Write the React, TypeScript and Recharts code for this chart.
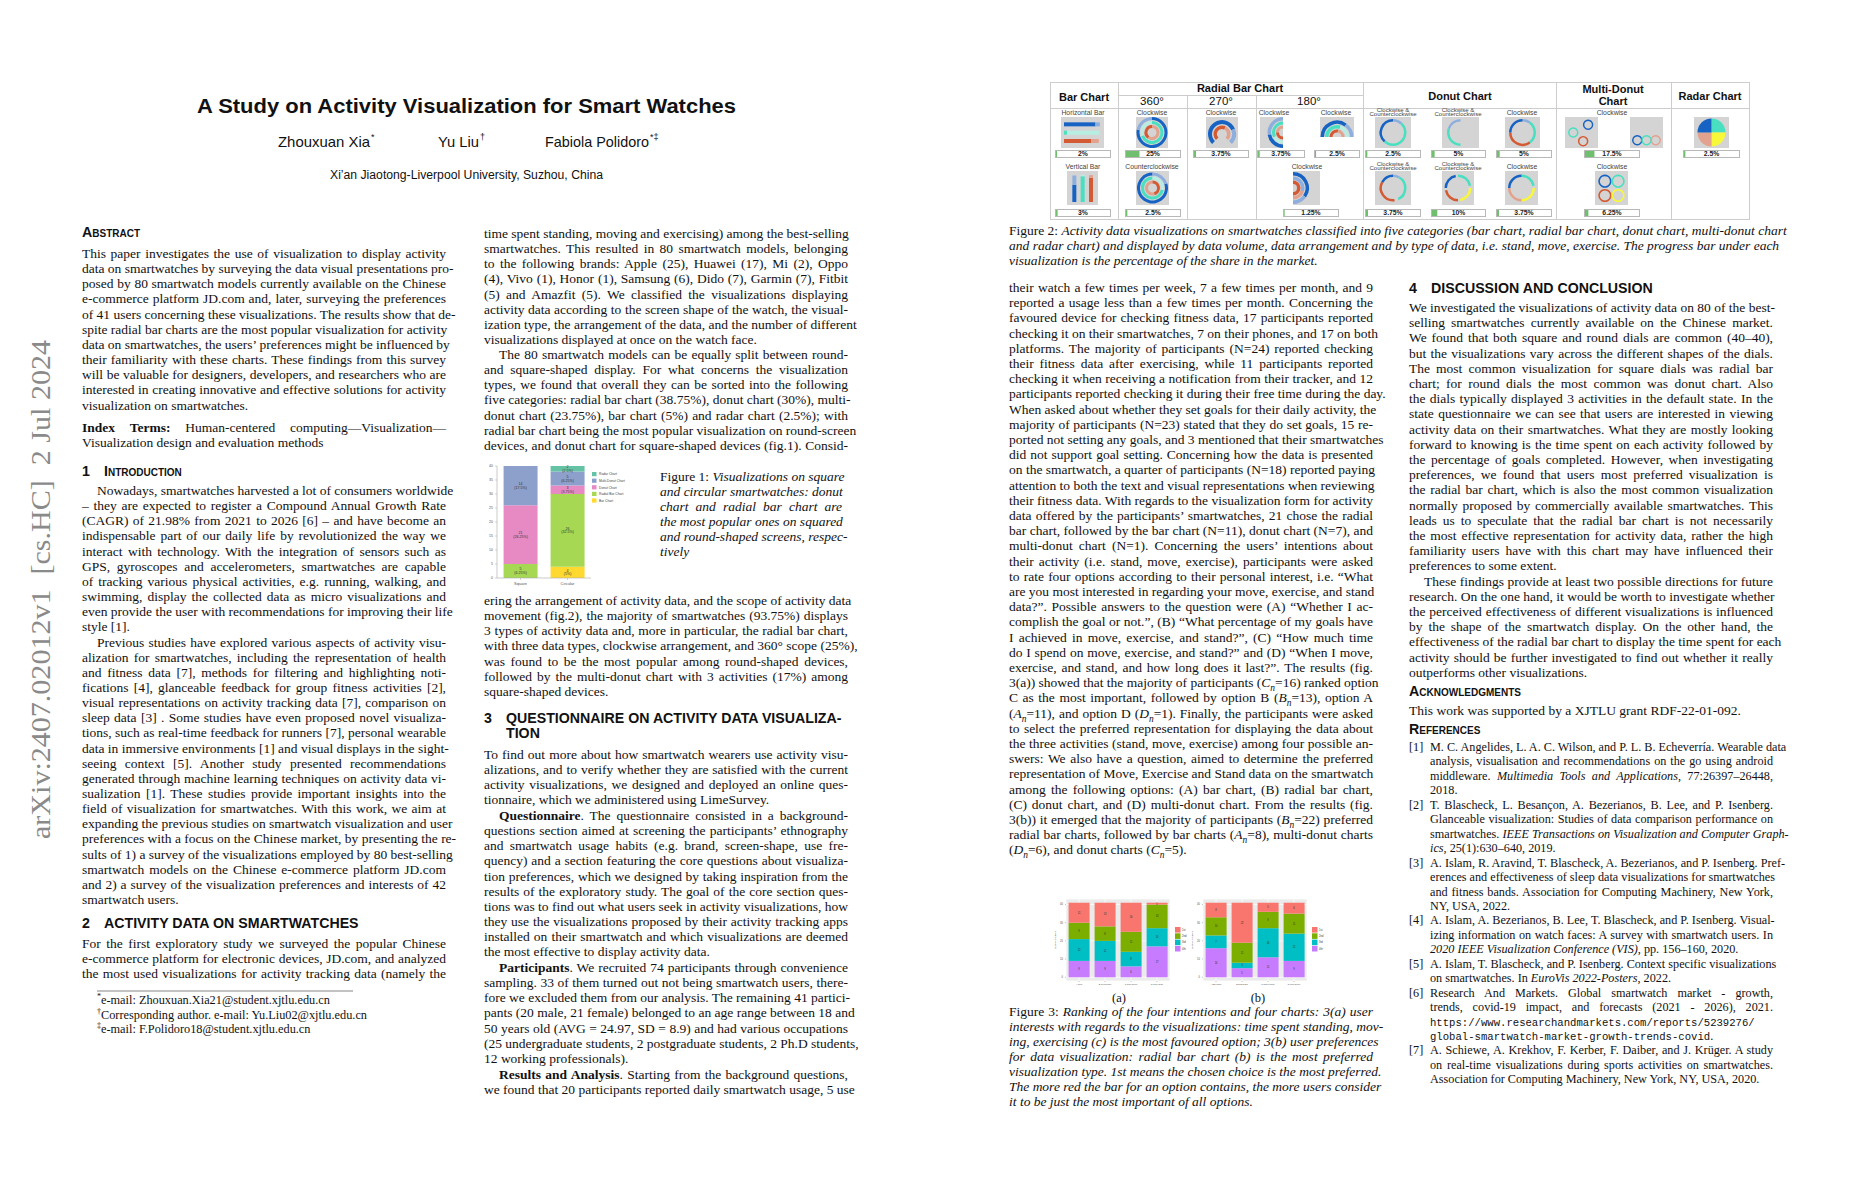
import React from 'react';
import {
  BarChart,
  Bar,
  XAxis,
  YAxis,
  CartesianGrid,
  Legend,
  LabelList,
  PieChart,
  Pie,
  Cell,
} from 'recharts';

const SERIF = '"Liberation Serif", "Times New Roman", serif';
const SANS = '"Liberation Sans", Arial, sans-serif';
const MONO = '"Liberation Mono", monospace';

// ---------------- Figure 1 (square vs circular) ----------------
const fig1Shapes = ['Square', 'Circular'];
const fig1Series = ['Bar Chart', 'Radial Bar Chart', 'Donut Chart', 'Multi-Donut Chart', 'Radar Chart'];
const fig1Colors = ['#ffd92f', '#a6d854', '#e78ac3', '#8da0cb', '#66c2a5'];
const fig1Square = [0, 5, 21, 14, 0];
const fig1Circular = [4, 26, 3, 5, 2];
const fig1Ticks = [0, 5, 10, 15, 20, 25, 30, 35, 40];
const fig1Total = 80;

// ---------------- Figure 3 (rankings) ----------------
const rankNames = ['4th', '3rd', '2nd', '1st']; // stacked bottom -> top
const rankColors = ['#C77CFF', '#00BFC4', '#7CAE00', '#F8766D'];
const fig3Ticks = [0, 10, 20, 30, 40];
const fig3aCats = ['A Goal Accomplished', 'B Percentage Achieved', 'C Time Spent', 'D Time Span'];
const fig3a4th = [9, 9, 6, 17];
const fig3a3rd = [12, 11, 8, 10];
const fig3a2nd = [9, 8, 11, 13];
const fig3a1st = [11, 13, 16, 1];
const fig3bCats = ['A Bar Chart', 'B Radial Bar Chart', 'C Donut Chart', 'D Multi-Donut Chart'];
const fig3b4th = [16, 5, 11, 9];
const fig3b3rd = [7, 3, 16, 15];
const fig3b2nd = [10, 11, 9, 11];
const fig3b1st = [8, 22, 5, 6];

// ---------------- Figure 2 (visualisation catalogue) ----------------
const fig2Labels1 = ['Horizontal Bar', 'Clockwise', 'Clockwise', 'Clockwise', 'Clockwise',
  'Clockwise &\nCounterclockwise', 'Clockwise &\nCounterclockwise', 'Clockwise', 'Clockwise', ''];
const fig2Shares1 = [2, 25, 3.75, 3.75, 2.5, 2.5, 5, 5, 17.5, 2.5];
const fig2Labels2 = ['Vertical Bar', 'Counterclockwise', 'Clockwise',
  'Clockwise &\nCounterclockwise', 'Clockwise &\nCounterclockwise', 'Clockwise', 'Clockwise'];
const fig2Shares2 = [3, 2.5, 1.25, 3.75, 10, 3.75, 6.25];

const cB = '#1763c4', cLB = '#8eaedd', cT = '#48e0c0', cLT = '#b6efe2', cO = '#d35a32', cS = '#e2a28e', cY = '#f8f83a', cN = 'none';

// icon glyphs drawn inside the grey thumbnails
const fig2Icons1: any[] = [
  { kind: 'bars', dir: 'h', bars: [[85, 12, cB, cLB], [8, 88, cT, cLT], [74, 20, cO, cS]] },
  { kind: 'ring', start: 90, end: -270, cx: '50%', cy: '50%', rings: [[12.5, 15.5, [[78, cB], [22, cLB]]], [8.5, 11.5, [[70, cT], [30, cLT]]], [4.5, 7.5, [[60, cS], [40, cO]]]] },
  { kind: 'ring', start: 225, end: -45, cx: '50%', cy: '55%', rings: [[10, 14, [[75, cB], [25, cLB]]], [5, 8.5, [[60, cO], [40, cS]]]] },
  { kind: 'ring', start: 90, end: 270, cx: '100%', cy: '50%', rings: [[12, 15.5, [[55, cLB], [45, cB]]], [8, 11, [[65, cT], [35, cLT]]], [4, 7, [[50, cS], [50, cO]]]] },
  { kind: 'ring', start: 180, end: 0, cx: '50%', cy: '100%', rings: [[13, 16.5, [[70, cB], [30, cLB]]], [8.5, 12, [[60, cT], [40, cLT]]], [4.5, 7.5, [[55, cO], [45, cS]]]] },
  { kind: 'ring', start: 90, end: -270, cx: '50%', cy: '50%', rings: [[11, 13.5, [[12, cLB], [50, cT], [38, cB]]]] },
  { kind: 'ring', start: 90, end: -270, cx: '50%', cy: '50%', rings: [[11, 13.5, [[50, cN], [30, cT], [20, cLB]]]] },
  { kind: 'ring', start: 90, end: -270, cx: '50%', cy: '50%', rings: [[11, 13.5, [[10, cLB], [30, cT], [35, cO], [25, cB]]]] },
  { kind: 'dots', r0: 3.8, r1: 5.2, boxes: [[['70%', '25%', cB], ['25%', '50%', cT], ['55%', '78%', cO]], [['22%', '75%', cB], ['50%', '75%', cT], ['78%', '75%', cS]]] },
  { kind: 'ring', start: 90, end: -270, cx: '50%', cy: '50%', rings: [[0, 14, [[25, cT], [25, cY], [25, cS], [25, cB]]]] },
];
const fig2Icons2: any[] = [
  { kind: 'bars', dir: 'v', bars: [[62, 33, cB, cLB], [92, 5, cT, cLT], [86, 10, cO, cS]] },
  { kind: 'ring', start: 90, end: 450, cx: '50%', cy: '50%', rings: [[12.5, 15.5, [[80, cB], [20, cLB]]], [8.5, 11.5, [[72, cT], [28, cLT]]], [4.5, 7.5, [[55, cS], [45, cO]]]] },
  { kind: 'ring', start: 90, end: -90, cx: '0%', cy: '50%', rings: [[12.5, 16, [[70, cB], [30, cLB]]], [8, 11.5, [[60, cLB], [40, cS]]], [4, 7.5, [[100, cO]]]] },
  { kind: 'ring', start: 90, end: -270, cx: '50%', cy: '50%', rings: [[11, 13.5, [[8, cLB], [35, cT], [5, cN], [35, cO], [17, cB]]]] },
  { kind: 'ring', start: 90, end: -270, cx: '50%', cy: '50%', rings: [[11, 13.5, [[22, cT], [3, cN], [22, cY], [3, cN], [22, cO], [3, cN], [22, cB], [3, cN]]]] },
  { kind: 'ring', start: 90, end: -270, cx: '50%', cy: '50%', rings: [[11, 13.5, [[22, cT], [3, cN], [25, cY], [25, cS], [25, cB]]]] },
  { kind: 'dots', r0: 5, r1: 6.6, boxes: [[['30%', '30%', cB], ['70%', '30%', cT], ['30%', '72%', cO], ['70%', '72%', cY]]] },
];

// table geometry
const fig2Layout1 = [
  { tx: [1061], tw: 43, px: 1055, pw: 56, lx: 1083 },
  { tx: [1136], tw: 32, px: 1125, pw: 56, lx: 1152 },
  { tx: [1206], tw: 32, px: 1193, pw: 56, lx: 1221 },
  { tx: [1260], tw: 23, px: 1257, pw: 48, lx: 1274 },
  { tx: [1320], tw: 34, th: 20, px: 1314, pw: 46, lx: 1336 },
  { tx: [1375], tw: 36, px: 1365, pw: 56, lx: 1393 },
  { tx: [1442], tw: 37, px: 1431, pw: 55, lx: 1458 },
  { tx: [1505], tw: 35, px: 1496, pw: 56, lx: 1522 },
  { tx: [1565, 1630], tw: 33, px: 1584, pw: 56, lx: 1612 },
  { tx: [1694], tw: 35, px: 1683, pw: 57, lx: 1711 },
];
const fig2Layout2 = [
  { tx: [1067], tw: 31, px: 1055, pw: 56, lx: 1083 },
  { tx: [1136], tw: 33, px: 1125, pw: 56, lx: 1152 },
  { tx: [1293], tw: 27, px: 1283, pw: 56, lx: 1307 },
  { tx: [1375], tw: 36, px: 1365, pw: 56, lx: 1393 },
  { tx: [1442], tw: 32, px: 1431, pw: 55, lx: 1458 },
  { tx: [1505], tw: 33, px: 1496, pw: 56, lx: 1522 },
  { tx: [1595], tw: 33, px: 1584, pw: 56, lx: 1612 },
];

// ---------------- page text ----------------
const abstractLines = [
  'This paper investigates the use of visualization to display activity',
  'data on smartwatches by surveying the data visual presentations pro-',
  'posed by 80 smartwatch models currently available on the Chinese',
  'e-commerce platform JD.com and, later, surveying the preferences',
  'of 41 users concerning these visualizations. The results show that de-',
  'spite radial bar charts are the most popular visualization for activity',
  'data on smartwatches, the users\u2019 preferences might be influenced by',
  'their familiarity with these charts. These findings from this survey',
  'will be valuable for designers, developers, and researchers who are',
  'interested in creating innovative and effective solutions for activity',
  'visualization on smartwatches.',
];
const indexLines = [
  '**Index Terms:** Human-centered computing\u2014Visualization\u2014',
  'Visualization design and evaluation methods',
];
const introP1 = [
  'Nowadays, smartwatches harvested a lot of consumers worldwide',
  '\u2013 they are expected to register a Compound Annual Growth Rate',
  '(CAGR) of 21.98% from 2021 to 2026 [6] \u2013 and have become an',
  'indispensable part of our daily life by revolutionized the way we',
  'interact with technology. With the integration of sensors such as',
  'GPS, gyroscopes and accelerometers, smartwatches are capable',
  'of tracking various physical activities, e.g. running, walking, and',
  'swimming, display the collected data as micro visualizations and',
  'even provide the user with recommendations for improving their life',
  'style [1].',
];
const introP2 = [
  'Previous studies have explored various aspects of activity visu-',
  'alization for smartwatches, including the representation of health',
  'and fitness data [7], methods for filtering and highlighting noti-',
  'fications [4], glanceable feedback for group fitness activities [2],',
  'visual representations on activity tracking data [7], comparison on',
  'sleep data [3] . Some studies have even proposed novel visualiza-',
  'tions, such as real-time feedback for runners [7], personal wearable',
  'data in immersive environments [1] and visual displays in the sight-',
  'seeing context [5]. Another study presented recommendations',
  'generated through machine learning techniques on activity data vi-',
  'sualization [1]. These studies provide important insights into the',
  'field of visualization for smartwatches. With this work, we aim at',
  'expanding the previous studies on smartwatch visualization and user',
  'preferences with a focus on the Chinese market, by presenting the re-',
  'sults of 1) a survey of the visualizations employed by 80 best-selling',
  'smartwatch models on the Chinese e-commerce platform JD.com',
  'and 2) a survey of the visualization preferences and interests of 42',
  'smartwatch users.',
];
const sec2Lines = [
  'For the first exploratory study we surveyed the popular Chinese',
  'e-commerce platform for electronic devices, JD.com, and analyzed',
  'the most used visualizations for activity tracking data (namely the',
];
const footLines = [
  '^*^e-mail: Zhouxuan.Xia21@student.xjtlu.edu.cn',
  '^\u2020^Corresponding author. e-mail: Yu.Liu02@xjtlu.edu.cn',
  '^\u2021^e-mail: F.Polidoro18@student.xjtlu.edu.cn',
];
const col2P1 = [
  'time spent standing, moving and exercising) among the best-selling',
  'smartwatches. This resulted in 80 smartwatch models, belonging',
  'to the following brands: Apple (25), Huawei (17), Mi (2), Oppo',
  '(4), Vivo (1), Honor (1), Samsung (6), Dido (7), Garmin (7), Fitbit',
  '(5) and Amazfit (5). We classified the visualizations displaying',
  'activity data according to the screen shape of the watch, the visual-',
  'ization type, the arrangement of the data, and the number of different',
  'visualizations displayed at once on the watch face.',
];
const col2P2 = [
  'The 80 smartwatch models can be equally split between round-',
  'and square-shaped display. For what concerns the visualization',
  'types, we found that overall they can be sorted into the following',
  'five categories: radial bar chart (38.75%), donut chart (30%), multi-',
  'donut chart (23.75%), bar chart (5%) and radar chart (2.5%); with',
  'radial bar chart being the most popular visualization on round-screen',
  'devices, and donut chart for square-shaped devices (fig.1). Consid-',
];
const fig1Caption = [
  'Figure 1: *Visualizations on square*',
  '*and circular smartwatches: donut*',
  '*chart and radial bar chart are*',
  '*the most popular ones on squared*',
  '*and round-shaped screens, respec-*',
  '*tively*',
];
const col2P3 = [
  'ering the arrangement of activity data, and the scope of activity data',
  'movement (fig.2), the majority of smartwatches (93.75%) displays',
  '3 types of activity data and, more in particular, the radial bar chart,',
  'with three data types, clockwise arrangement, and 360\u00b0 scope (25%),',
  'was found to be the most popular among round-shaped devices,',
  'followed by the multi-donut chart with 3 activities (17%) among',
  'square-shaped devices.',
];
const col2P4 = [
  'To find out more about how smartwatch wearers use activity visu-',
  'alizations, and to verify whether they are satisfied with the current',
  'activity visualizations, we designed and deployed an online ques-',
  'tionnaire, which we administered using LimeSurvey.',
];
const col2P5 = [
  '**Questionnaire**. The questionnaire consisted in a background-',
  'questions section aimed at screening the participants\u2019 ethnography',
  'and smartwatch usage habits (e.g. brand, screen-shape, use fre-',
  'quency) and a section featuring the core questions about visualiza-',
  'tion preferences, which we designed by taking inspiration from the',
  'results of the exploratory study. The goal of the core section ques-',
  'tions was to find out what users seek in activity visualizations, how',
  'they use the visualizations proposed by their activity tracking apps',
  'installed on their smartwatch and which visualizations are deemed',
  'the most effective to display activity data.',
];
const col2P6 = [
  '**Participants**. We recruited 74 participants through convenience',
  'sampling. 33 of them turned out not being smartwatch users, there-',
  'fore we excluded them from our analysis. The remaining 41 partici-',
  'pants (20 male, 21 female) belonged to an age range between 18 and',
  '50 years old (AVG = 24.97, SD = 8.9) and had various occupations',
  '(25 undergraduate students, 2 postgraduate students, 2 Ph.D students,',
  '12 working professionals).',
];
const col2P7 = [
  '**Results and Analysis**. Starting from the background questions,',
  'we found that 20 participants reported daily smartwatch usage, 5 use',
];
const fig2Caption = [
  'Figure 2: *Activity data visualizations on smartwatches classified into five categories (bar chart, radial bar chart, donut chart, multi-donut chart*',
  '*and radar chart) and displayed by data volume, data arrangement and by type of data, i.e. stand, move, exercise. The progress bar under each*',
  '*visualization is the percentage of the share in the market.*',
];
const col3Lines = [
  'their watch a few times per week, 7 a few times per month, and 9',
  'reported a usage less than a few times per month. Concerning the',
  'favoured device for checking fitness data, 17 participants reported',
  'checking it on their smartwatches, 7 on their phones, and 17 on both',
  'platforms. The majority of participants (N=24) reported checking',
  'their fitness data after exercising, while 11 participants reported',
  'checking it when receiving a notification from their tracker, and 12',
  'participants reported checking it during their free time during the day.',
  'When asked about whether they set goals for their daily activity, the',
  'majority of participants (N=23) stated that they do set goals, 15 re-',
  'ported not setting any goals, and 3 mentioned that their smartwatches',
  'did not support goal setting. Concerning how the data is presented',
  'on the smartwatch, a quarter of participants (N=18) reported paying',
  'attention to both the text and visual representations when reviewing',
  'their fitness data. With regards to the visualization form for activity',
  'data offered by the participants\u2019 smartwatches, 21 chose the radial',
  'bar chart, followed by the bar chart (N=11), donut chart (N=7), and',
  'multi-donut chart (N=1). Concerning the users\u2019 intentions about',
  'their activity (i.e. stand, move, exercise), participants were asked',
  'to rate four options according to their personal interest, i.e. \u201cWhat',
  'are you most interested in regarding your move, exercise, and stand',
  'data?\u201d. Possible answers to the question were (A) \u201cWhether I ac-',
  'complish the goal or not.\u201d, (B) \u201cWhat percentage of my goals have',
  'I achieved in move, exercise, and stand?\u201d, (C) \u201cHow much time',
  'do I spend on move, exercise, and stand?\u201d and (D) \u201cWhen I move,',
  'exercise, and stand, and how long does it last?\u201d. The results (fig.',
  '3(a)) showed that the majority of participants (*C*_n=16) ranked option',
  'C as the most important, followed by option B (*B*_n=13), option A',
  '(*A*_n=11), and option D (*D*_n=1). Finally, the participants were asked',
  'to select the preferred representation for displaying the data about',
  'the three activities (stand, move, exercise) among four possible an-',
  'swers: We also have a question, aimed to determine the preferred',
  'representation of Move, Exercise and Stand data on the smartwatch',
  'among the following options: (A) bar chart, (B) radial bar chart,',
  '(C) donut chart, and (D) multi-donut chart. From the results (fig.',
  '3(b)) it emerged that the majority of participants (*B*_n=22) preferred',
  'radial bar charts, followed by bar charts (*A*_n=8), multi-donut charts',
  '(*D*_n=6), and donut charts (*C*_n=5).',
];
const fig3Caption = [
  'Figure 3: *Ranking of the four intentions and four charts: 3(a) user*',
  '*interests with regards to the visualizations: time spent standing, mov-*',
  '*ing, exercising (c) is the most favoured option; 3(b) user preferences*',
  '*for data visualization: radial bar chart (b) is the most preferred*',
  '*visualization type. 1st means the chosen choice is the most preferred.*',
  '*The more red the bar for an option contains, the more users consider*',
  '*it to be just the most important of all options.*',
];
const col4P1 = [
  'We investigated the visualizations of activity data on 80 of the best-',
  'selling smartwatches currently available on the Chinese market.',
  'We found that both square and round dials are common (40\u201340),',
  'but the visualizations vary across the different shapes of the dials.',
  'The most common visualization for square dials was radial bar',
  'chart; for round dials the most common was donut chart. Also',
  'the dials typically displayed 3 activities in the default state. In the',
  'state questionnaire we can see that users are interested in viewing',
  'activity data on their smartwatches. What they are mostly looking',
  'forward to knowing is the time spent on each activity followed by',
  'the percentage of goals completed. However, when investigating',
  'preferences, we found that users most preferred visualization is',
  'the radial bar chart, which is also the most common visualization',
  'normally proposed by commercially available smartwatches. This',
  'leads us to speculate that the radial bar chart is not necessarily',
  'the most effective representation for activity data, rather the high',
  'familiarity users have with this chart may have influenced their',
  'preferences to some extent.',
];
const col4P2 = [
  'These findings provide at least two possible directions for future',
  'research. On the one hand, it would be worth to investigate whether',
  'the perceived effectiveness of different visualizations is influenced',
  'by the shape of the smartwatch display. On the other hand, the',
  'effectiveness of the radial bar chart to display the time spent for each',
  'activity should be further investigated to find out whether it really',
  'outperforms other visualizations.',
];
const ackLines = ['This work was supported by a XJTLU grant RDF-22-01-092.'];
const references = [
  ['M. C. Angelides, L. A. C. Wilson, and P. L. B. Echeverr\u00eda. Wearable data',
    'analysis, visualisation and recommendations on the go using android',
    'middleware. *Multimedia Tools and Applications*, 77:26397\u201326448,',
    '2018.'],
  ['T. Blascheck, L. Besan\u00e7on, A. Bezerianos, B. Lee, and P. Isenberg.',
    'Glanceable visualization: Studies of data comparison performance on',
    'smartwatches. *IEEE Transactions on Visualization and Computer Graph-*',
    '*ics*, 25(1):630\u2013640, 2019.'],
  ['A. Islam, R. Aravind, T. Blascheck, A. Bezerianos, and P. Isenberg. Pref-',
    'erences and effectiveness of sleep data visualizations for smartwatches',
    'and fitness bands. Association for Computing Machinery, New York,',
    'NY, USA, 2022.'],
  ['A. Islam, A. Bezerianos, B. Lee, T. Blascheck, and P. Isenberg. Visual-',
    'izing information on watch faces: A survey with smartwatch users. In',
    '*2020 IEEE Visualization Conference (VIS)*, pp. 156\u2013160, 2020.'],
  ['A. Islam, T. Blascheck, and P. Isenberg. Context specific visualizations',
    'on smartwatches. In *EuroVis 2022-Posters*, 2022.'],
  ['Research And Markets. Global smartwatch market - growth,',
    'trends, covid-19 impact, and forecasts (2021 - 2026), 2021.',
    '`https://www.researchandmarkets.com/reports/5239276/`',
    '`global-smartwatch-market-growth-trends-covid`.'],
  ['A. Schiewe, A. Krekhov, F. Kerber, F. Daiber, and J. Kr\u00fcger. A study',
    'on real-time visualizations during sports activities on smartwatches.',
    'Association for Computing Machinery, New York, NY, USA, 2020.'],
];

// ---------------- text helpers ----------------
const rich = (s: string) =>
  s.split(/(\^.+?\^|\*\*.+?\*\*|\*.+?\*|`.+?`|_n)/g).map((p, k) => {
    if (!p) return null;
    if (p === '_n') return <sub key={k} style={{ fontSize: '0.7em', fontStyle: 'italic', lineHeight: 0 }}>n</sub>;
    if (p.startsWith('^')) return <sup key={k} style={{ fontSize: '0.65em', lineHeight: 0 }}>{p.slice(1, -1)}</sup>;
    if (p.startsWith('**')) return <b key={k}>{p.slice(2, -2)}</b>;
    if (p.startsWith('`')) return <span key={k} style={{ fontFamily: MONO, fontSize: '0.87em' }}>{p.slice(1, -1)}</span>;
    if (p.startsWith('*')) return <i key={k}>{p.slice(1, -1)}</i>;
    return <React.Fragment key={k}>{p}</React.Fragment>;
  });

const Para = ({ x, w, y, lines, indent = false, pitch = 15.15, size = 13.5, endJustified = false, ragged = false }: any) => (
  <>
    {lines.map((ln: string, i: number) => {
      const last = ragged || (i === lines.length - 1 && !endJustified) || ln.includes('`');
      const left = x + (i === 0 && indent ? 15 : 0);
      return (
        <div
          key={i}
          style={{
            position: 'absolute',
            left,
            top: y + i * pitch - 9,
            width: w - (left - x),
            height: pitch,
            fontSize: size,
            lineHeight: `${pitch}px`,
            whiteSpace: 'nowrap',
            textAlign: last ? 'left' : 'justify',
            textAlignLast: last ? 'left' : 'justify',
          }}
        >
          {rich(ln)}
        </div>
      );
    })}
  </>
);

const Heading = ({ x, y, num, text, caps = false }: any) => (
  <div style={{ position: 'absolute', left: x, top: y - 9, fontFamily: SANS, fontWeight: 700, fontSize: 14.2, lineHeight: '16px', whiteSpace: 'nowrap', fontVariant: caps ? 'small-caps' : 'normal' }}>
    {num ? <span style={{ display: 'inline-block', width: 22 }}>{num}</span> : null}
    {text}
  </div>
);

// ---------------- charts ----------------
const Figure1 = () => {
  const rows = fig1Shapes.map((shape, i) => {
    const vals = i === 0 ? fig1Square : fig1Circular;
    const row: any = { shape };
    fig1Series.forEach((s, j) => { row[s] = vals[j]; });
    return row;
  });
  const fmt = (v: any) => (v ? `${v} (${Math.round((v / fig1Total) * 10000) / 100}%)` : '');
  return (
    <div style={{ position: 'absolute', left: 480, top: 461 }}>
      <BarChart width={176} height={130} data={rows} margin={{ top: 5, right: 0, bottom: 0, left: 0 }} barCategoryGap="14%">
        <XAxis dataKey="shape" height={13} tick={{ fontSize: 4, fill: '#555', fontFamily: SANS }} tickSize={2} axisLine={{ stroke: '#aaa', strokeWidth: 0.6 }} tickLine={{ stroke: '#aaa', strokeWidth: 0.5 }} />
        <YAxis width={17} domain={[0, 40]} ticks={fig1Ticks} tick={{ fontSize: 3.5, fill: '#555', fontFamily: SANS }} tickSize={2} axisLine={{ stroke: '#aaa', strokeWidth: 0.6 }} tickLine={{ stroke: '#aaa', strokeWidth: 0.5 }} />
        <Legend
          layout="vertical"
          align="right"
          verticalAlign="top"
          wrapperStyle={{ width: 65, top: 11 }}
          content={() => (
            <svg width={65} height={34}>
              {fig1Series.map((s, j) => ({ s, c: fig1Colors[j] })).reverse().map((it, k) => (
                <g key={it.s}>
                  <rect x={1} y={k * 6.6} width={4.5} height={4.2} fill={it.c} />
                  <text x={8} y={k * 6.6 + 3.4} fontSize={3.3} fill="#444" fontFamily={SANS}>{it.s}</text>
                </g>
              ))}
            </svg>
          )}
        />
        {fig1Series.map((s, j) => (
          <Bar key={s} dataKey={s} stackId="a" fill={fig1Colors[j]} isAnimationActive={false}>
            <LabelList dataKey={s} position="center" formatter={fmt} fontSize={3.6} fill="#333" fontFamily={SANS} />
          </Bar>
        ))}
      </BarChart>
    </div>
  );
};

const RankChart = ({ left, cats, r4, r3, r2, r1 }: any) => {
  const cols = [r4, r3, r2, r1];
  const rows = cats.map((c: string, i: number) => {
    const row: any = { cat: c };
    rankNames.forEach((r, j) => { row[r] = cols[j][i]; });
    return row;
  });
  return (
    <div style={{ position: 'absolute', left, top: 896 }}>
      <BarChart width={144} height={91} data={rows} margin={{ top: 3, right: 2, bottom: 0, left: 0 }} barCategoryGap="10%">
        <CartesianGrid fill="#EBEBEB" stroke="#ffffff" strokeWidth={0.7} />
        <XAxis dataKey="cat" height={6} interval={0} tick={{ fontSize: 2.1, fill: '#4d4d4d', fontFamily: SANS }} tickSize={1} tickLine={{ stroke: '#333', strokeWidth: 0.3 }} axisLine={false} />
        <YAxis
          width={14}
          domain={[-2.05, 43.05]}
          ticks={fig3Ticks}
          tick={{ fontSize: 2.6, fill: '#4d4d4d', fontFamily: SANS }}
          tickSize={1}
          tickLine={{ stroke: '#333', strokeWidth: 0.3 }}
          axisLine={false}
          label={{ value: 'Number of users', angle: -90, position: 'insideLeft', offset: 3, style: { fontSize: 2.4, fill: '#333', textAnchor: 'middle', fontFamily: SANS } }}
        />
        <Legend
          layout="vertical"
          align="right"
          verticalAlign="middle"
          wrapperStyle={{ width: 24 }}
          content={() => (
            <svg width={24} height={26}>
              {rankNames.map((r, j) => ({ r, c: rankColors[j] })).reverse().map((it, k) => (
                <g key={it.r}>
                  <rect x={5} y={k * 6.3} width={5.5} height={5.6} fill={it.c} />
                  <text x={12} y={k * 6.3 + 3.8} fontSize={2.6} fill="#333" fontFamily={SANS}>{it.r}</text>
                </g>
              ))}
            </svg>
          )}
        />
        {rankNames.map((r, j) => (
          <Bar key={r} dataKey={r} stackId="a" fill={rankColors[j]} isAnimationActive={false}>
            <LabelList dataKey={r} position="center" fontSize={2.6} fill="#333" fontFamily={SANS} />
          </Bar>
        ))}
      </BarChart>
    </div>
  );
};

const RingIcon = ({ icon, w, h }: any) => (
  <PieChart width={w} height={h} margin={{ top: 0, right: 0, bottom: 0, left: 0 }}>
    {icon.rings.map((ring: any, k: number) => (
      <Pie
        key={k}
        data={ring[2].map((sg: any, m: number) => ({ name: `s${m}`, v: sg[0] }))}
        dataKey="v"
        cx={icon.cx}
        cy={icon.cy}
        innerRadius={ring[0]}
        outerRadius={ring[1]}
        startAngle={icon.start}
        endAngle={icon.end}
        stroke="none"
        isAnimationActive={false}
      >
        {ring[2].map((sg: any, m: number) => <Cell key={m} fill={sg[1]} />)}
      </Pie>
    ))}
  </PieChart>
);

const DotsIcon = ({ dots, r0, r1, w, h }: any) => (
  <PieChart width={w} height={h} margin={{ top: 0, right: 0, bottom: 0, left: 0 }}>
    {dots.map((d: any, k: number) => (
      <Pie key={k} data={[{ v: 1 }]} dataKey="v" cx={d[0]} cy={d[1]} innerRadius={r0} outerRadius={r1} stroke="none" isAnimationActive={false}>
        <Cell fill={d[2]} />
      </Pie>
    ))}
  </PieChart>
);

const BarsIcon = ({ icon, w, h }: any) => {
  const rows = icon.bars.map((b: any, i: number) => ({ k: `b${i}`, main: b[0], rest: b[1] }));
  const horiz = icon.dir === 'h';
  return (
    <BarChart width={w} height={h} data={rows} layout={horiz ? 'vertical' : 'horizontal'} margin={{ top: 3, right: 3, bottom: 3, left: 3 }} barCategoryGap="28%">
      {horiz ? <XAxis type="number" domain={[0, 100]} hide /> : <XAxis type="category" dataKey="k" hide />}
      {horiz ? <YAxis type="category" dataKey="k" hide /> : <YAxis type="number" domain={[0, 100]} hide />}
      <Bar dataKey="main" stackId="s" isAnimationActive={false}>
        {icon.bars.map((b: any, i: number) => <Cell key={i} fill={b[2]} />)}
      </Bar>
      <Bar dataKey="rest" stackId="s" isAnimationActive={false}>
        {icon.bars.map((b: any, i: number) => <Cell key={i} fill={b[3]} />)}
      </Bar>
    </BarChart>
  );
};

const Progress = ({ x, y, w, share }: any) => (
  <div style={{ position: 'absolute', left: x, top: y, width: w, height: 8, boxSizing: 'border-box', border: '1px solid #b8b8b8', background: '#fff' }}>
    <BarChart width={w - 2} height={6} data={[{ k: 'p', share }]} layout="vertical" margin={{ top: 0, right: 0, bottom: 0, left: 0 }} barCategoryGap={0}>
      <XAxis type="number" domain={[0, 100]} hide />
      <YAxis type="category" dataKey="k" hide />
      <Bar dataKey="share" fill="#6fbf6f" isAnimationActive={false} />
    </BarChart>
    <div style={{ position: 'absolute', left: 0, top: 0, width: '100%', textAlign: 'center', fontFamily: SANS, fontWeight: 700, fontSize: 6.8, lineHeight: '6px', color: '#222' }}>{share}%</div>
  </div>
);

const Fig2Row = ({ labels, shares, icons, layout, labelY, thumbY, thumbH, progY }: any) => (
  <>
    {layout.map((L: any, i: number) => {
      const icon = icons[i];
      const th = L.th || thumbH;
      const two = labels[i].includes('\n');
      return (
        <React.Fragment key={i}>
          {labels[i] ? (
            <div style={{ position: 'absolute', left: L.lx - 40, top: labelY - (two ? 5 : 4), width: 80, textAlign: 'center', fontFamily: SANS, fontSize: two ? 6 : 6.8, lineHeight: two ? '4px' : '8px', color: '#444', whiteSpace: 'pre' }}>
              {labels[i]}
            </div>
          ) : null}
          {L.tx.map((tx: number, k: number) => (
            <div key={k} style={{ position: 'absolute', left: tx, top: thumbY, width: L.tw, height: th, background: '#d4d4d4' }}>
              {icon.kind === 'ring' && <RingIcon icon={icon} w={L.tw} h={th} />}
              {icon.kind === 'bars' && <BarsIcon icon={icon} w={L.tw} h={th} />}
              {icon.kind === 'dots' && <DotsIcon dots={icon.boxes[k]} r0={icon.r0} r1={icon.r1} w={L.tw} h={th} />}
            </div>
          ))}
          <Progress x={L.px} y={progY} w={L.pw} share={shares[i]} />
        </React.Fragment>
      );
    })}
  </>
);

const Figure2 = () => {
  const line = '#cdcdcd';
  const hx = [1118, 1363, 1556, 1671];
  const sx = [1187, 1256];
  const head = (cx: number, y: number, t: string, bold = true, size = 11) => (
    <div style={{ position: 'absolute', left: cx - 60, top: y - 7, width: 120, textAlign: 'center', fontFamily: SANS, fontWeight: bold ? 700 : 400, fontSize: size, lineHeight: '13px', color: '#111' }}>{t}</div>
  );
  return (
    <>
      <div style={{ position: 'absolute', left: 1050, top: 82, width: 700, height: 138, boxSizing: 'border-box', border: `1px solid ${line}` }} />
      <div style={{ position: 'absolute', left: 1050, top: 108, width: 700, height: 1, background: line }} />
      <div style={{ position: 'absolute', left: 1118, top: 95, width: 245, height: 1, background: line }} />
      {hx.map((x) => <div key={x} style={{ position: 'absolute', left: x, top: 82, width: 1, height: 138, background: line }} />)}
      {sx.map((x) => <div key={x} style={{ position: 'absolute', left: x, top: 95, width: 1, height: 125, background: line }} />)}
      {head(1084, 98, 'Bar Chart')}
      {head(1240, 89, 'Radial Bar Chart')}
      {head(1152, 102, '360\u00b0', false, 11.5)}
      {head(1221, 102, '270\u00b0', false, 11.5)}
      {head(1309, 102, '180\u00b0', false, 11.5)}
      {head(1460, 97, 'Donut Chart')}
      {head(1613, 90, 'Multi-Donut')}
      {head(1613, 102, 'Chart')}
      {head(1710, 97, 'Radar Chart')}
      <Fig2Row labels={fig2Labels1} shares={fig2Shares1} icons={fig2Icons1} layout={fig2Layout1} labelY={113} thumbY={117} thumbH={31} progY={150} />
      <Fig2Row labels={fig2Labels2} shares={fig2Shares2} icons={fig2Icons2} layout={fig2Layout2} labelY={167} thumbY={171} thumbH={34} progY={209} />
    </>
  );
};

// ---------------- page ----------------
const App = () => {
  const c1 = 82, c2 = 484, c3 = 1009, c4 = 1409, W = 364;
  return (
    <div style={{ position: 'absolute', left: 0, top: 0, width: 1854, height: 1200, background: '#fff', color: '#111', fontFamily: SERIF, overflow: 'hidden' }}>
      <svg width={1854} height={1200} style={{ position: 'absolute', left: 0, top: 0 }}>
        <text transform="translate(50,839) rotate(-90)" fontFamily={SERIF} fontSize={28} fill="#8a8a8a" textLength={499} lengthAdjust="spacingAndGlyphs" style={{ whiteSpace: 'pre' }}>
          arXiv:2407.02012v1  [cs.HC]  2 Jul 2024
        </text>
        <text x={197} y={113} fontFamily={SANS} fontWeight={700} fontSize={20} fill="#111" textLength={539} lengthAdjust="spacingAndGlyphs">
          A Study on Activity Visualization for Smart Watches
        </text>
        <text x={278} y={147} fontFamily={SANS} fontSize={15} fill="#111" textLength={92} lengthAdjust="spacingAndGlyphs">Zhouxuan Xia</text>
        <text x={371} y={140} fontFamily={SANS} fontSize={9} fill="#111">*</text>
        <text x={438} y={147} fontFamily={SANS} fontSize={15} fill="#111" textLength={41} lengthAdjust="spacingAndGlyphs">Yu Liu</text>
        <text x={480} y={140} fontFamily={SANS} fontSize={9} fill="#111">{'\u2020'}</text>
        <text x={545} y={147} fontFamily={SANS} fontSize={15} fill="#111" textLength={104} lengthAdjust="spacingAndGlyphs">Fabiola Polidoro</text>
        <text x={650} y={140} fontFamily={SANS} fontSize={9} fill="#111">{'*\u2021'}</text>
        <text x={330} y={179} fontFamily={SANS} fontSize={12} fill="#111" textLength={273} lengthAdjust="spacingAndGlyphs">
          Xi’an Jiaotong-Liverpool University, Suzhou, China
        </text>
        <line x1={97} x2={353} y1={991} y2={991} stroke="#333" strokeWidth={0.6} />
        <text x={1119} y={1002} fontFamily={SERIF} fontSize={12.5} textAnchor="middle" fill="#111">(a)</text>
        <text x={1258} y={1002} fontFamily={SERIF} fontSize={12.5} textAnchor="middle" fill="#111">(b)</text>
      </svg>

      {/* column 1 */}
      <Heading x={c1} y={233} text="Abstract" caps />
      <Para x={c1} w={W} y={255} lines={abstractLines} />
      <Para x={c1} w={W} y={429} lines={indexLines} />
      <Heading x={c1} y={472} num="1" text="Introduction" caps />
      <Para x={c1} w={W} y={492} lines={introP1} indent />
      <Para x={c1} w={W} y={643.5} lines={introP2} indent />
      <Heading x={c1} y={924} num="2" text="ACTIVITY DATA ON SMARTWATCHES" />
      <Para x={c1} w={W} y={945} lines={sec2Lines} endJustified />
      <Para x={97} w={320} y={1002} lines={footLines} size={12.3} pitch={14.5} ragged />

      {/* column 2 */}
      <Para x={c2} w={W} y={235} lines={col2P1} />
      <Para x={c2} w={W} y={356} lines={col2P2} indent endJustified />
      <Figure1 />
      <Para x={660} w={182} y={478} lines={fig1Caption} pitch={15} />
      <Para x={c2} w={W} y={602} lines={col2P3} />
      <Heading x={c2} y={719} num="3" text="QUESTIONNAIRE ON ACTIVITY DATA VISUALIZA-" />
      <Heading x={c2 + 22} y={734} text="TION" />
      <Para x={c2} w={W} y={756} lines={col2P4} />
      <Para x={c2} w={W} y={817} lines={col2P5} indent />
      <Para x={c2} w={W} y={969} lines={col2P6} indent />
      <Para x={c2} w={W} y={1076} lines={col2P7} indent endJustified />

      {/* figure 2 across the right page */}
      <Figure2 />
      <Para x={c3} w={763} y={232} lines={fig2Caption} pitch={15} />

      {/* column 3 */}
      <Para x={c3} w={W} y={289} lines={col3Lines} pitch={15.2} />
      <RankChart left={1052} cats={fig3aCats} r4={fig3a4th} r3={fig3a3rd} r2={fig3a2nd} r1={fig3a1st} />
      <RankChart left={1189} cats={fig3bCats} r4={fig3b4th} r3={fig3b3rd} r2={fig3b2nd} r1={fig3b1st} />
      <Para x={c3} w={W} y={1013} lines={fig3Caption} pitch={15} />

      {/* column 4 */}
      <Heading x={c4} y={289} num="4" text="DISCUSSION AND CONCLUSION" />
      <Para x={c4} w={W} y={309} lines={col4P1} pitch={15.2} />
      <Para x={c4} w={W} y={582.6} lines={col4P2} pitch={15.2} indent />
      <Heading x={c4} y={692} text="Acknowledgments" caps />
      <Para x={c4} w={W} y={712} lines={ackLines} />
      <Heading x={c4} y={730} text="References" caps />
      {(() => {
        let row = 0;
        return references.map((ref, i) => {
          const y = 749 + row * 14.45;
          row += ref.length;
          return (
            <React.Fragment key={i}>
              <div style={{ position: 'absolute', left: c4, top: y - 9, fontSize: 12.2, lineHeight: '14.45px' }}>[{i + 1}]</div>
              <Para x={c4 + 21} w={W - 21} y={y} lines={ref} pitch={14.45} size={12.2} />
            </React.Fragment>
          );
        });
      })()}
    </div>
  );
};

export default App;
